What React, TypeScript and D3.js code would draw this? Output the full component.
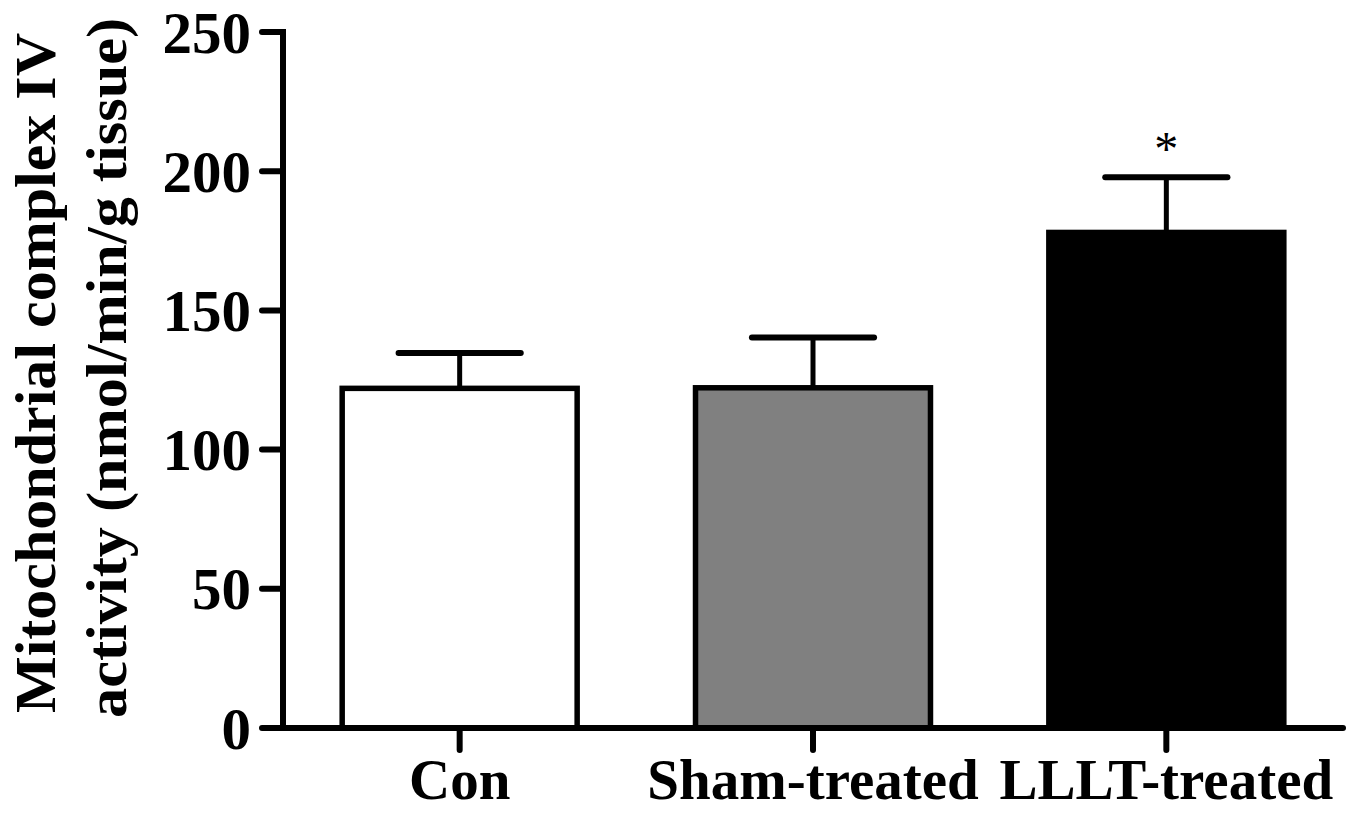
import React from "react";
import * as d3 from "d3";

const groups = ["Con", "Sham-treated", "LLLT-treated"];
const means = [122, 122.2, 178];
const errTops = [134.7, 140.3, 197.8];
const fills = ["#ffffff", "#808080", "#000000"];
const marks = ["", "", "*"];
const yTicks = [0, 50, 100, 150, 200, 250];
const yLabelLines = ["Mitochondrial complex IV", "activity (nmol/min/g tissue)"];

const W = 1366;
const H = 813;
const FONT = "'Liberation Serif', 'Times New Roman', serif";

const App = () => {
  // plot area
  const left = 283;
  const right = 1343;
  const top = 32;
  const bottom = 728;

  const x = d3.scalePoint<string>().domain(groups).range([left, right]).padding(0.5);
  const y = d3.scaleLinear().domain([0, 250]).range([bottom, top]);
  const barW = x.step() * 0.665;
  const capW = barW * 0.52;

  // title line placement: [centre y, baseline x, length]
  const titlePos = [
    [373, 55, 680],
    [368, 126, 700],
  ];

  return (
    <svg
      width={W}
      height={H}
      style={{ position: "absolute", left: 0, top: 0, background: "#fff" }}
      fontFamily={FONT}
      fontWeight="bold"
    >
      {/* y axis title */}
      {yLabelLines.map((t, i) => (
        <text
          key={t}
          transform={`translate(${titlePos[i][1]},${titlePos[i][0]}) rotate(-90)`}
          textAnchor="middle"
          fontSize={57}
          textLength={titlePos[i][2]}
          lengthAdjust="spacingAndGlyphs"
        >
          {t}
        </text>
      ))}

      {/* bars */}
      {groups.map((g, i) => (
        <g key={g}>
          <line
            x1={x(g)}
            x2={x(g)}
            y1={y(means[i])}
            y2={y(errTops[i])}
            stroke="#000"
            strokeWidth={5}
          />
          <line
            x1={x(g)! - capW / 2}
            x2={x(g)! + capW / 2}
            y1={y(errTops[i])}
            y2={y(errTops[i])}
            stroke="#000"
            strokeWidth={6}
            strokeLinecap="round"
          />
          <rect
            x={x(g)! - barW / 2}
            y={y(means[i])}
            width={barW}
            height={y(0) - y(means[i])}
            fill={fills[i]}
            stroke="#000"
            strokeWidth={5.5}
          />
          {marks[i] && (
            <text x={x(g)} y={y(errTops[i]) - 12} textAnchor="middle" fontSize={48} fontWeight="normal">
              {marks[i]}
            </text>
          )}
        </g>
      ))}

      {/* y axis */}
      <line x1={left} x2={left} y1={top - 3} y2={bottom + 3} stroke="#000" strokeWidth={6} />
      {yTicks.map((t) => (
        <g key={t}>
          <line x1={left - 21} x2={left} y1={y(t)} y2={y(t)} stroke="#000" strokeWidth={6} strokeLinecap="round" />
          <text x={left - 32} y={y(t)} dy="0.35em" textAnchor="end" fontSize={59}>
            {t}
          </text>
        </g>
      ))}

      {/* x axis */}
      <line x1={left} x2={right} y1={bottom} y2={bottom} stroke="#000" strokeWidth={6} strokeLinecap="round" />
      {groups.map((g) => (
        <g key={g}>
          <line x1={x(g)} x2={x(g)} y1={bottom} y2={bottom + 22} stroke="#000" strokeWidth={6} strokeLinecap="round" />
          <text x={x(g)} y={799} textAnchor="middle" fontSize={57}>
            {g}
          </text>
        </g>
      ))}
    </svg>
  );
};

export default App;
